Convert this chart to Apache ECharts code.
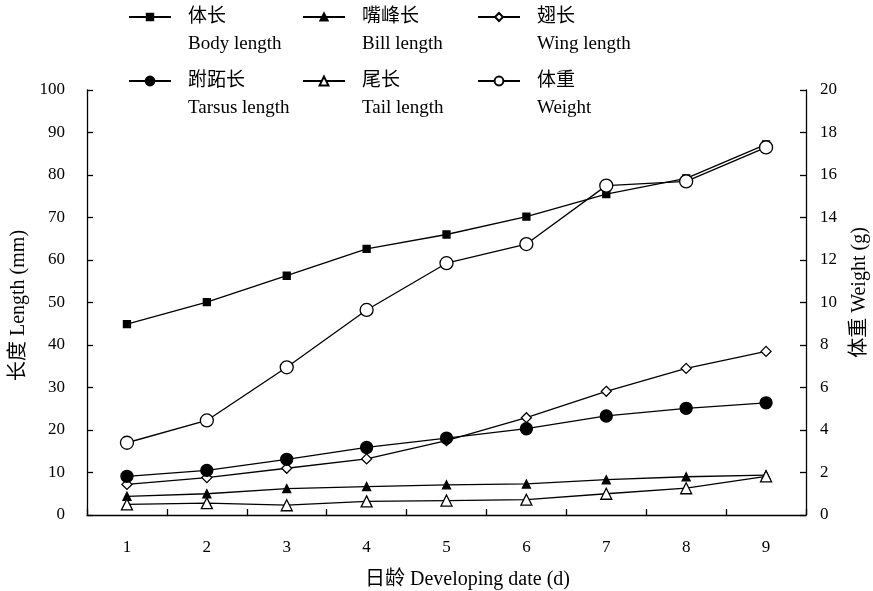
<!DOCTYPE html>
<html>
<head>
<meta charset="utf-8">
<script src="https://cdn.jsdelivr.net/npm/echarts@6/dist/echarts.min.js"></script>
<style>html,body{margin:0;padding:0;background:#fff;}#c{width:873px;height:591px;}</style>
</head>
<body>
<div id="c"></div>
<script>
const days = ['1','2','3','4','5','6','7','8','9'];
const namesCN = ['体长','嘴峰长','翅长','跗跖长','尾长','体重'];
const namesEN = ['Body length','Bill length','Wing length','Tarsus length','Tail length','Weight'];
const bodyLength   = [44.9, 50.1, 56.3, 62.6, 66.0, 70.2, 75.5, 79.2, 87.2];
const billLength   = [4.4, 5.0, 6.2, 6.7, 7.1, 7.3, 8.3, 9.0, 9.4];
const wingLength   = [7.2, 8.8, 11.0, 13.2, 17.5, 22.9, 29.1, 34.5, 38.5];
const tarsusLength = [9.1, 10.5, 13.1, 15.9, 18.1, 20.3, 23.3, 25.1, 26.4];
const tailLength   = [2.5, 2.8, 2.3, 3.2, 3.4, 3.6, 5.0, 6.3, 9.1];
const weight       = [3.4, 4.45, 6.95, 9.65, 11.85, 12.75, 15.5, 15.7, 17.3];

const FONT = '"Liberation Serif", "Times New Roman", "Noto Sans CJK SC", serif';
const chart = echarts.init(document.getElementById('c'), null, {renderer: 'canvas'});

const dataList = [bodyLength, billLength, wingLength, tarsusLength, tailLength, weight];
const symbolDefs = [
  {symbol: 'rect', size: 7, fill: '#000', legendH: 8},
  {symbol: 'triangle', size: 8, fill: '#000', legendH: 9},
  {symbol: 'diamond', size: 10, fill: '#fff', legendH: 10},
  {symbol: 'circle', size: 12, fill: '#000', legendH: 11},
  {symbol: 'triangle', size: 11, fill: '#fff', legendH: 11},
  {symbol: 'circle', size: 13, fill: '#fff', legendH: 11}
];

const series = dataList.map((d, i) => ({
  name: namesCN[i],
  type: 'line',
  data: d,
  yAxisIndex: i === 5 ? 1 : 0,
  symbol: symbolDefs[i].symbol,
  symbolSize: symbolDefs[i].size,
  showAllSymbol: true,
  lineStyle: {color: '#000', width: 1.3},
  itemStyle: {color: symbolDefs[i].fill, borderColor: '#000', borderWidth: 1.3},
  z: i === 5 ? 3 : 2,
  animation: false
}));

const legendPos = [
  {left: 128, y: 17}, {left: 302, y: 17}, {left: 477, y: 17},
  {left: 128, y: 81}, {left: 302, y: 81}, {left: 477, y: 81}
];
const LH = 27;
const legends = namesCN.map((n, i) => ({
  data: [n],
  left: legendPos[i].left,
  top: legendPos[i].y - 1.5 * LH,
  padding: 0,
  itemWidth: 42,
  itemHeight: symbolDefs[i].legendH,
  itemGap: 0,
  selectedMode: false,
  formatter: name => '{e| }\n{a|' + name + '}\n{a|' + namesEN[i] + '}',
  textStyle: {
    fontFamily: FONT, fontSize: 19, color: '#000', lineHeight: LH, padding: [0, 0, 0, 12],
    rich: {e: {lineHeight: LH, fontSize: 19, fontFamily: FONT}, a: {lineHeight: LH, fontSize: 19, fontFamily: FONT, color: '#000'}}
  }
}));

const axisCommon = {
  axisLine: {show: true, lineStyle: {color: '#000', width: 1.3}},
  axisTick: {show: true, inside: true, length: 6, lineStyle: {color: '#000', width: 1.3}},
  splitLine: {show: false},
  axisLabel: {color: '#000', fontFamily: FONT, fontSize: 17},
  nameTextStyle: {color: '#000', fontFamily: FONT, fontSize: 20}
};

chart.setOption({
  backgroundColor: '#fff',
  animation: false,
  legend: legends,
  grid: {left: 87, right: 67, top: 90, bottom: 76, containLabel: false, outerBoundsMode: 'none'},
  xAxis: Object.assign({}, axisCommon, {
    type: 'category',
    data: days,
    boundaryGap: true,
    axisTick: {show: true, inside: true, length: 6, alignWithLabel: false, lineStyle: {color: '#000', width: 1.3}},
    axisLabel: Object.assign({}, axisCommon.axisLabel, {margin: 24}),
    name: '日龄 Developing date (d)',
    nameLocation: 'middle',
    nameGap: 55,
    nameTextStyle: Object.assign({}, axisCommon.nameTextStyle, {padding: [0, 0, 0, 42]})
  }),
  yAxis: [
    Object.assign({}, axisCommon, {
      type: 'value', min: 0, max: 100, interval: 10, position: 'left',
      axisLabel: Object.assign({}, axisCommon.axisLabel, {margin: 22}),
      name: '长度 Length (mm)', nameLocation: 'middle', nameRotate: 90, nameGap: 58,
      nameTextStyle: Object.assign({}, axisCommon.nameTextStyle, {padding: [0, 6, 0, 0]})
    }),
    Object.assign({}, axisCommon, {
      type: 'value', min: 0, max: 20, interval: 2, position: 'right',
      axisLabel: Object.assign({}, axisCommon.axisLabel, {margin: 14}),
      name: '体重 Weight (g)', nameLocation: 'middle', nameRotate: 90, nameGap: 44,
      nameTextStyle: Object.assign({}, axisCommon.nameTextStyle, {padding: [0, 0, 0, 20]})
    })
  ],
  series: series
});
</script>
</body>
</html>
